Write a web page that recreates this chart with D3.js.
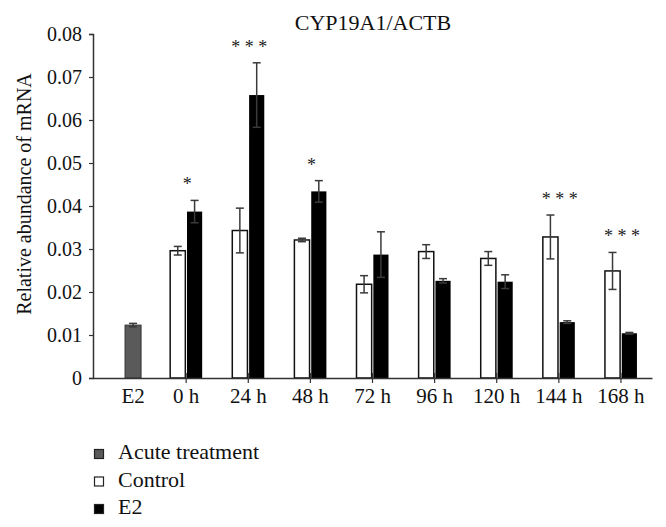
<!DOCTYPE html>
<html>
<head>
<meta charset="utf-8">
<script src="https://cdn.jsdelivr.net/npm/d3@7"></script>
<style>
  html, body { margin: 0; padding: 0; background: #fff; }
</style>
</head>
<body>
<svg id="chart" width="666" height="527"></svg>
<script>
// ---- data ----
const categories = ["E2", "0 h", "24 h", "48 h", "72 h", "96 h", "120 h", "144 h", "168 h"];
const timeCategories = ["0 h", "24 h", "48 h", "72 h", "96 h", "120 h", "144 h", "168 h"];
const acuteValue = 0.0123;
const acuteError = 0.0004;
const controlValues = [0.0296, 0.0343, 0.0321, 0.0218, 0.0294, 0.0278, 0.0328, 0.0249];
const controlErrors = [0.0010, 0.0052, 0.0004, 0.0020, 0.0016, 0.0016, 0.0051, 0.0043];
const e2Values = [0.0387, 0.0658, 0.0434, 0.0287, 0.0226, 0.0224, 0.0130, 0.0104];
const e2Errors = [0.0026, 0.0075, 0.0025, 0.0053, 0.0005, 0.0016, 0.0003, 0.0002];
const sigLabels = ["*", "* * *", "*", "", "", "", "* * *", "* * *"];
const yTicks = [0, 0.01, 0.02, 0.03, 0.04, 0.05, 0.06, 0.07, 0.08];
const legendLabels = ["Acute treatment", "Control", "E2"];
const title = "CYP19A1/ACTB";
const yLabel = "Relative abundance of mRNA";

// ---- layout ----
const FONT = "Liberation Serif";
const svg = d3.select("#chart");
const x = d3.scaleBand().domain(categories).range([93, 652]).paddingInner(0).paddingOuter(0);
const y = d3.scaleLinear().domain([0, 0.08]).range([378, 34]);
const sub = d3.scaleBand().domain(["Control", "E2"]).range([-16, 16]).paddingInner(0.1);
const acuteOffset = 9, acuteWidth = 16;
const cx = c => x(c) + x.bandwidth() / 2;

const colors = { acute: "#5a5a5a", control: "#ffffff", e2: "#000000" };
const errColor = "#3a3a3a";

// title
svg.append("text").attr("x", 373).attr("y", 30).attr("text-anchor", "middle")
  .style("font-family", FONT).style("font-size", "22px").attr("fill", "#111").text(title);

// y label
svg.append("text").attr("transform", "translate(31,194) rotate(-90)")
  .attr("text-anchor", "middle").style("font-family", FONT).style("font-size", "20px")
  .attr("fill", "#111").text(yLabel);

// y axis
const yAxis = svg.append("g").attr("transform", "translate(93,0)")
  .call(d3.axisLeft(y).tickValues(yTicks).tickSize(4).tickPadding(7)
    .tickFormat(d => d === 0 ? "0" : d3.format(".2f")(d)));
yAxis.select(".domain").attr("stroke", "#333").attr("stroke-width", 1.5);
yAxis.selectAll(".tick line").attr("stroke", "#333").attr("stroke-width", 1.2);
yAxis.selectAll(".tick text").style("font-size", "20px").style("font-family", FONT).attr("fill", "#111");

// bars: acute
const gAcute = svg.append("g");
const ax = cx("E2") + acuteOffset;
gAcute.append("rect").attr("x", ax - acuteWidth / 2).attr("width", acuteWidth)
  .attr("y", y(acuteValue)).attr("height", y(0) - y(acuteValue))
  .attr("fill", colors.acute).attr("stroke", "#333").attr("stroke-width", 1);

function errBar(g, xc, v, e) {
  g.append("line").attr("x1", xc).attr("x2", xc).attr("y1", y(v + e)).attr("y2", y(v - e))
    .attr("stroke", errColor).attr("stroke-width", 1.5);
  [v + e, v - e].forEach(t => g.append("line").attr("x1", xc - 4).attr("x2", xc + 4)
    .attr("y1", y(t)).attr("y2", y(t)).attr("stroke", errColor).attr("stroke-width", 1.5));
}
errBar(gAcute, ax, acuteValue, acuteError);

// grouped bars
const gBars = svg.append("g");
timeCategories.forEach((c, i) => {
  const c0 = cx(c);
  const xc = c0 + sub("Control"), xe = c0 + sub("E2");
  const bw = sub.bandwidth();
  gBars.append("rect").attr("x", xc).attr("width", bw)
    .attr("y", y(controlValues[i])).attr("height", y(0) - y(controlValues[i]))
    .attr("fill", colors.control).attr("stroke", "#111").attr("stroke-width", 1.5);
  gBars.append("rect").attr("x", xe).attr("width", bw)
    .attr("y", y(e2Values[i])).attr("height", y(0) - y(e2Values[i]))
    .attr("fill", colors.e2);
  errBar(gBars, xc + bw / 2, controlValues[i], controlErrors[i]);
  errBar(gBars, xe + bw / 2, e2Values[i], e2Errors[i]);
  if (sigLabels[i]) {
    const top = Math.max(controlValues[i] + controlErrors[i], e2Values[i] + e2Errors[i]);
    svg.append("text").attr("x", c0 + 1).attr("y", y(top) - 10).attr("text-anchor", "middle")
      .style("font-family", FONT).style("font-size", "18px").attr("fill", "#222").text(sigLabels[i]);
  }
});

// x axis
const xAxis = svg.append("g").attr("transform", "translate(0,378)")
  .call(d3.axisBottom(x).tickSize(5).tickSizeOuter(0).tickPadding(5));
xAxis.select(".domain").attr("stroke", "#333").attr("stroke-width", 1.5);
xAxis.selectAll(".tick line").attr("stroke", "#333").attr("stroke-width", 1.2).attr("y1", -5);
xAxis.selectAll(".tick text").style("font-size", "21px").style("font-family", FONT).attr("fill", "#111");
xAxis.selectAll(".tick").filter(d => d === "E2").select("line").remove();
xAxis.selectAll(".tick").filter(d => d === "E2").select("text").attr("dx", acuteOffset);

// legend
const legendFill = [colors.acute, colors.control, colors.e2];
const legend = svg.append("g");
legendLabels.forEach((l, i) => {
  const yy = 454 + i * 27.5;
  legend.append("rect").attr("x", 94.5).attr("y", yy - 4.5).attr("width", 9).attr("height", 9)
    .attr("fill", legendFill[i]).attr("stroke", "#222").attr("stroke-width", 1.2);
  legend.append("text").attr("x", 118).attr("y", yy + 5).style("font-family", FONT)
    .style("font-size", "22px").attr("fill", "#111").text(l);
});
</script>
</body>
</html>
